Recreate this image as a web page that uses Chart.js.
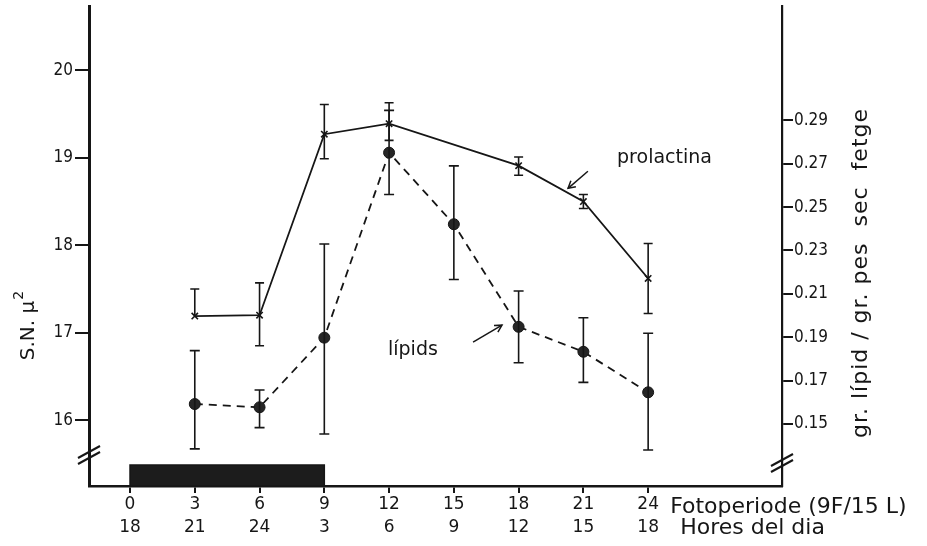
<!DOCTYPE html>
<html><head><meta charset="utf-8">
<script src="https://cdn.jsdelivr.net/npm/chart.js@4/dist/chart.umd.min.js"></script>
<style>html,body{margin:0;padding:0;background:#fff}#wrap{width:927px;height:546px;position:relative}</style>
</head><body><div id="wrap"><canvas id="c" width="927" height="546"></canvas></div>
<script>
// ---- data ----
const prolHours = [3, 6, 9, 12, 18, 21, 24];
const prolactina = [17.19, 17.2, 19.27, 19.39, 18.91, 18.5, 17.62];
const prolErrUp = [0.31, 0.37, 0.34, 0.24, 0.1, 0.08, 0.40];
const prolErrDown = [0, 0.35, 0.28, 0.19, 0.11, 0.08, 0.40];

const lipHours = [3, 6, 9, 12, 15, 18, 21, 24];
const lipids = [0.1592, 0.1577, 0.1898, 0.2751, 0.2421, 0.1948, 0.1833, 0.1646];
const lipErrUp = [0.0246, 0.0080, 0.0432, 0.0195, 0.0269, 0.0165, 0.0157, 0.0272];
const lipErrDown = [0.0207, 0.0094, 0.0444, 0.0193, 0.0255, 0.0166, 0.0141, 0.0266];

const fotoTicks = [0, 3, 6, 9, 12, 15, 18, 21, 24];
const horesLabels = ['18', '21', '24', '3', '6', '9', '12', '15', '18'];
const leftTicks = [16, 17, 18, 19, 20];
const rightTicks = [0.15, 0.17, 0.19, 0.21, 0.23, 0.25, 0.27, 0.29];
const darkPeriod = [0, 9];

const F = "'DejaVu Sans', sans-serif";
const FC = "'DejaVu Sans Condensed', 'DejaVu Sans', sans-serif";
const INK = '#161616';

function drawArrow(ctx, x0, y0, x1, y1) {
  ctx.beginPath(); ctx.moveTo(x0, y0); ctx.lineTo(x1, y1); ctx.stroke();
  const ang = Math.atan2(y1 - y0, x1 - x0), L = 8, w = 0.5;
  ctx.beginPath();
  ctx.moveTo(x1 - L * Math.cos(ang - w), y1 - L * Math.sin(ang - w));
  ctx.lineTo(x1, y1);
  ctx.lineTo(x1 - L * Math.cos(ang + w), y1 - L * Math.sin(ang + w));
  ctx.stroke();
}

const decor = {
  id: 'decor',
  afterDraw(chart) {
    const { ctx, chartArea: a, scales: { x, y, y1 } } = chart;
    ctx.save();
    ctx.strokeStyle = INK; ctx.fillStyle = INK; ctx.lineCap = 'butt';

    // dark period bar
    const bx0 = x.getPixelForValue(darkPeriod[0]), bx1 = x.getPixelForValue(darkPeriod[1]);
    ctx.fillStyle = '#1c1c1c';
    ctx.fillRect(bx0, a.bottom - 21, bx1 - bx0, 21);
    ctx.lineWidth = 1.5; ctx.strokeRect(bx0, a.bottom - 21, bx1 - bx0, 21);

    // error bars
    ctx.lineWidth = 1.6; ctx.fillStyle = INK;
    const eb = (px, yt, yb, cw) => {
      ctx.beginPath();
      ctx.moveTo(px, yt); ctx.lineTo(px, yb);
      ctx.moveTo(px - cw, yt); ctx.lineTo(px + cw, yt);
      if (yb !== yt) { ctx.moveTo(px - cw, yb); ctx.lineTo(px + cw, yb); }
      ctx.stroke();
    };
    prolHours.forEach((h, i) => {
      const px = x.getPixelForValue(h);
      const yt = y.getPixelForValue(prolactina[i] + prolErrUp[i]);
      const yb = y.getPixelForValue(prolactina[i] - prolErrDown[i]);
      ctx.beginPath(); ctx.moveTo(px, yt); ctx.lineTo(px, yb);
      ctx.moveTo(px - 4.5, yt); ctx.lineTo(px + 4.5, yt);
      if (prolErrDown[i] > 0) { ctx.moveTo(px - 4.5, yb); ctx.lineTo(px + 4.5, yb); }
      ctx.stroke();
    });
    lipHours.forEach((h, i) => {
      const px = x.getPixelForValue(h);
      eb(px, y1.getPixelForValue(lipids[i] + lipErrUp[i]), y1.getPixelForValue(lipids[i] - lipErrDown[i]), 5);
    });

    // axis break marks
    ctx.lineWidth = 2;
    const brk = (cx, cy) => { ctx.beginPath(); ctx.moveTo(cx - 11, cy + 6); ctx.lineTo(cx + 11, cy - 6); ctx.stroke(); };
    brk(a.left, a.bottom - 34); brk(a.left, a.bottom - 28);
    brk(a.right, a.bottom - 26); brk(a.right, a.bottom - 20);

    // series labels and arrows (positioned in data space)
    ctx.fillStyle = INK;
    ctx.font = '19px ' + F; ctx.textBaseline = 'middle'; ctx.textAlign = 'left';
    ctx.fillText('prolactina', x.getPixelForValue(22.56), y.getPixelForValue(19.0));
    ctx.fillText('lípids', x.getPixelForValue(11.95), y.getPixelForValue(16.8));
    ctx.lineWidth = 1.5;
    drawArrow(ctx, x.getPixelForValue(21.21), y.getPixelForValue(18.846), x.getPixelForValue(20.29), y.getPixelForValue(18.651));
    drawArrow(ctx, x.getPixelForValue(15.89), y.getPixelForValue(16.891), x.getPixelForValue(17.23), y.getPixelForValue(17.086));

    // x axis row titles
    const lastX = x.getPixelForValue(fotoTicks[fotoTicks.length - 1]);
    ctx.font = '22px ' + F; ctx.textBaseline = 'middle';
    ctx.fillText('Fotoperiode (9F/15 L)', lastX + 22, a.bottom + 21);
    ctx.fillText('Hores del dia', lastX + 32, a.bottom + 42);

    // left axis title
    ctx.save();
    ctx.translate(34, 326); ctx.rotate(-Math.PI / 2);
    ctx.font = '20px ' + F; ctx.textBaseline = 'alphabetic'; ctx.textAlign = 'left';
    const t1 = 'S.N. μ', w1 = ctx.measureText(t1).width;
    ctx.font = '14px ' + F; const w2 = ctx.measureText('2').width;
    const sx = -(w1 + w2) / 2;
    ctx.font = '20px ' + F; ctx.fillText(t1, sx, 0);
    ctx.font = '14px ' + F; ctx.fillText('2', sx + w1 + 1, -11);
    ctx.restore();

    // right axis title
    ctx.save();
    ctx.translate(867, 273); ctx.rotate(-Math.PI / 2);
    ctx.font = '22px ' + F; ctx.textBaseline = 'alphabetic'; ctx.textAlign = 'center';
    try { ctx.letterSpacing = '1px'; } catch (e) {}
    ctx.fillText('gr. lípid / gr. pes  sec  fetge', 0, 0);
    ctx.restore();

    ctx.restore();
  }
};

const noPad = s => { s.paddingTop = 0; s.paddingBottom = 0; };

new Chart(document.getElementById('c'), {
  type: 'scatter',
  data: {
    datasets: [
      {
        label: 'prolactina', yAxisID: 'y',
        data: prolHours.map((h, i) => ({ x: h, y: prolactina[i] })),
        showLine: true, borderColor: INK, borderWidth: 1.8,
        pointStyle: 'crossRot', pointRadius: 4.5, pointBorderWidth: 1.6,
        pointBorderColor: INK, pointBackgroundColor: INK
      },
      {
        label: 'lípids', yAxisID: 'y1',
        data: lipHours.map((h, i) => ({ x: h, y: lipids[i] })),
        showLine: true, borderColor: INK, borderWidth: 1.8, borderDash: [8, 6],
        pointStyle: 'circle', pointRadius: 5.5, pointBorderWidth: 1,
        pointBorderColor: INK, pointBackgroundColor: '#262626'
      }
    ]
  },
  options: {
    responsive: false, animation: false, devicePixelRatio: 1,
    layout: { padding: { top: 6, left: 0, right: 0, bottom: 0 } },
    plugins: { legend: { display: false }, tooltip: { enabled: false } },
    scales: {
      x: {
        type: 'linear', min: -1.9, max: 30.2,
        afterBuildTicks: s => { s.ticks = fotoTicks.map(v => ({ value: v })); },
        afterFit: s => { s.height = 60; },
        ticks: {
          autoSkip: false, maxRotation: 0, color: INK, padding: 1,
          font: { family: F, size: 17, lineHeight: 1.3 },
          callback: (v, i) => [String(fotoTicks[i]), horesLabels[i]]
        },
        grid: { drawOnChartArea: false, drawTicks: true, tickLength: 7, color: INK, lineWidth: 2 },
        border: { display: true, color: INK, width: 2.5 }
      },
      y: {
        position: 'left', min: 15.246, max: 20.731,
        afterBuildTicks: s => { s.ticks = leftTicks.map(v => ({ value: v })); },
        afterFit: s => { s.width = 89; noPad(s); },
        ticks: { color: INK, padding: 2, font: { family: FC, size: 17 }, callback: v => String(v) },
        grid: { drawOnChartArea: false, drawTicks: true, tickLength: 14, color: INK, lineWidth: 2 },
        border: { display: true, color: INK, width: 3 }
      },
      y1: {
        position: 'right', min: 0.1214, max: 0.3425,
        afterBuildTicks: s => { s.ticks = rightTicks.map(v => ({ value: v })); },
        afterFit: s => { s.width = 145; noPad(s); },
        ticks: { color: INK, padding: 1, font: { family: FC, size: 17 }, callback: v => v.toFixed(2) },
        grid: { drawOnChartArea: false, drawTicks: true, tickLength: 11, color: INK, lineWidth: 2 },
        border: { display: true, color: INK, width: 2.2 }
      }
    }
  },
  plugins: [decor]
});
</script>
</body></html>
